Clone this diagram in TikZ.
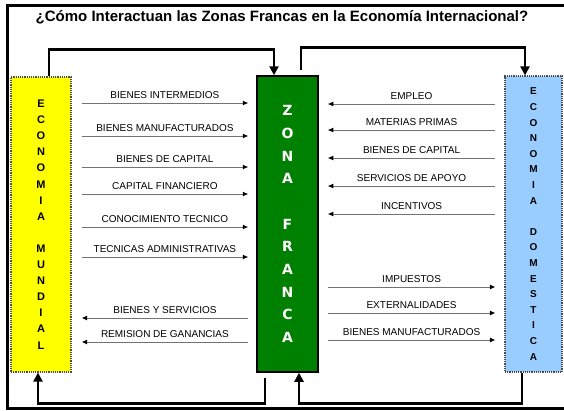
\documentclass[tikz,border=0pt]{standalone}
\usepackage{fontspec}
\setmainfont{Liberation Sans}
\newfontfamily\zonafont{DejaVu Sans}
\usetikzlibrary{arrows.meta}
\definecolor{amarillo}{RGB}{255,255,0}
\definecolor{verde}{RGB}{0,128,0}
\definecolor{celeste}{RGB}{153,204,255}
\begin{document}
\begin{tikzpicture}[x=1pt,y=-1pt,line join=miter,
  caja/.style={draw=black!70,densely dotted,line width=1.2pt,align=center,inner sep=0pt},
  enlace/.style={line width=2.6pt,-{Triangle[length=9pt,width=9pt]}},
  flujo/.style={draw=black!55,line width=0.9pt,-{Latex[length=5.5pt,width=5pt,color=black]}},
  etiq/.style={above,inner sep=3.5pt,text=black,font=\fontsize{10}{12}\selectfont}]
\useasboundingbox (0,0) rectangle (564,410);
\draw[line width=3pt] (7.5,5) rectangle (580,408.5);
\node[font=\bfseries\fontsize{15}{17}\selectfont] (titulo) at (282,17) {¿Cómo Interactuan las Zonas Francas en la Economía Internacional?};

\node[caja,fill=amarillo,minimum width=60pt,minimum height=295pt,font=\bfseries\fontsize{11}{16.1}\selectfont] (mundial) at (41,224.5) {E\\C\\O\\N\\O\\M\\I\\A\\~\\M\\U\\N\\D\\I\\A\\L};
\node[draw=black,line width=1.5pt,fill=verde,text=white,align=center,inner sep=0pt,minimum width=61pt,minimum height=296pt,font=\zonafont\bfseries\fontsize{14}{22.7}\selectfont] (zona) at (287.5,224) {Z\\O\\N\\A\\~\\F\\R\\A\\N\\C\\A};
\node[caja,fill=celeste,minimum width=57pt,minimum height=296pt,font=\bfseries\fontsize{10}{15.6}\selectfont] (domestica) at (533.5,224) {E\\C\\O\\N\\O\\M\\I\\A\\~\\D\\O\\M\\E\\S\\T\\I\\C\\A};

\draw[enlace] ([xshift=8pt]mundial.north) -- ++(0,-27) -| ([xshift=-13.5pt]zona.north);
\draw[enlace] ([xshift=13.5pt,yshift=5pt]zona.north) -- ++(0,-23) -| ([xshift=-8.5pt]domestica.north);
\draw[enlace] ([xshift=-22.5pt,yshift=-5pt]zona.south) -- ++(0,26) -| ([xshift=-3pt]mundial.south);
\draw[enlace] ([xshift=-11.5pt]domestica.south) -- ++(0,31) -| ([xshift=11.5pt]zona.south);

\foreach \y/\t in {103/BIENES INTERMEDIOS,136/BIENES MANUFACTURADOS,167/BIENES DE CAPITAL,194/CAPITAL FINANCIERO,227/CONOCIMIENTO TECNICO,257/TECNICAS ADMINISTRATIVAS}
  \draw[flujo] ([xshift=10pt]mundial.east |- 0,\y) -- node[etiq] {\t} ([xshift=-8pt]zona.west |- 0,\y);
\foreach \y/\t in {318/BIENES Y SERVICIOS,342/REMISION DE GANANCIAS}
  \draw[flujo] ([xshift=-8pt]zona.west |- 0,\y) -- node[etiq] {\t} ([xshift=10pt]mundial.east |- 0,\y);
\foreach \y/\t in {104/EMPLEO,130/MATERIAS PRIMAS,158/BIENES DE CAPITAL,186/SERVICIOS DE APOYO,214/INCENTIVOS}
  \draw[flujo] ([xshift=-9pt]domestica.west |- 0,\y) -- node[etiq] {\t} ([xshift=9pt]zona.east |- 0,\y);
\foreach \y/\t in {287/IMPUESTOS,313/EXTERNALIDADES,340/BIENES MANUFACTURADOS}
  \draw[flujo] ([xshift=9pt]zona.east |- 0,\y) -- node[etiq] {\t} ([xshift=-9pt]domestica.west |- 0,\y);
\end{tikzpicture}
\end{document}
